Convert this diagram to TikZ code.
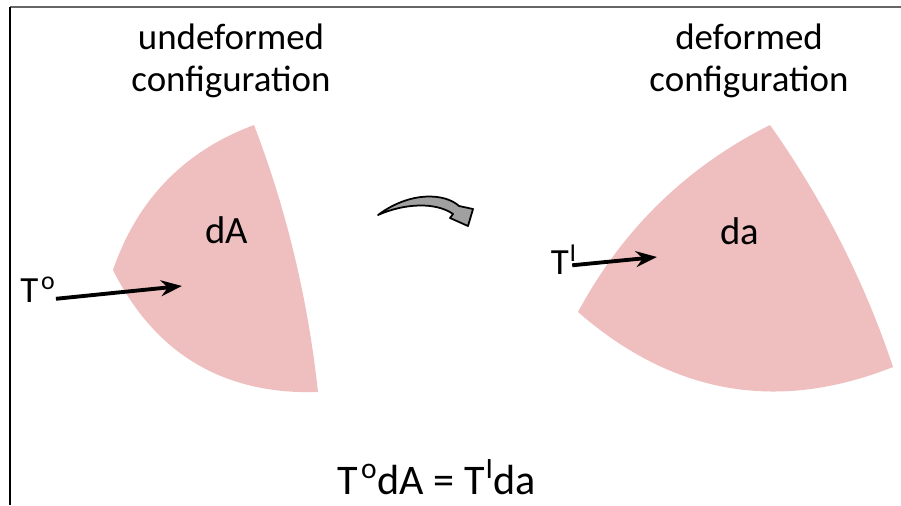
\documentclass[tikz,border=0pt]{standalone}
\usepackage{fontspec}
\setmainfont{Carlito}
\usepackage{xcolor}
\usepackage{tikz}
\usetikzlibrary{arrows.meta, positioning, calc}

\definecolor{regionpink}{RGB}{239,191,192}
\definecolor{turngray}{RGB}{160,160,160}

\newcommand{\supo}{\kern1.5pt\textsuperscript{o}}
\newcommand{\supI}{\kern0.5pt\textsuperscript{I}}

\begin{document}
\begin{tikzpicture}[
    x=0.02cm, y=-0.02cm,
    title/.style={align=center, font=\fontsize{21}{24}\selectfont, inner sep=0pt},
    area/.style={font=\fontsize{22}{26}\selectfont, inner sep=0pt},
    tlabel/.style={font=\fontsize{21}{24}\selectfont, inner sep=0pt},
    region/.style={fill=regionpink, draw=none},
    vec/.style={-{Stealth[length=12pt, width=9pt]}, line width=2.2pt}
]
    \useasboundingbox (0,0) rectangle (901,505);
    % frame
    \draw[gray!80!black, line width=0.9pt] (10,7) -- (901,7);
    \draw[black, line width=0.9pt] (10,7) -- (10,505);

    % undeformed patch
    \fill[region] (254,125) .. controls (184,151) and (137,200) .. (113,270)
        .. controls (155,354) and (224,395) .. (318,392)
        .. controls (308,300) and (287,211) .. cycle;
    % deformed patch
    \fill[region] (770,125) .. controls (686,167) and (622,230) .. (578,312)
        .. controls (672,394) and (777,413) .. (893,367)
        .. controls (864,280) and (823,200) .. cycle;

    \node[title] (undef) at (231,61) {undeformed\\configuration};
    \node[title] (def) at (749,61) {deformed\\configuration};
    \node[area] (dA) at (227,230) {dA};
    \node[area] (da) at (740,231) {da};

    % tractions
    \node[tlabel] (To) at (38,290) {T\supo};
    \node[tlabel] (Tp) at (564,260) {T\supI};
    \coordinate (ToTip) at (182,286);
    \coordinate (TpTip) at (657,257);
    \draw[vec] ([yshift=-5pt]To.east) -- (ToTip);
    \draw[vec] ([xshift=-3pt, yshift=-3pt]Tp.east) -- (TpTip);

    % mapping arrow
    \filldraw[fill=turngray, draw=black, line width=1pt, line join=round]
        (378,215) .. controls (410,191) and (445,193) .. (459,206)
        -- (473,209) -- (468,226) -- (450,218) -- (453,214)
        .. controls (436,202) and (405,203) .. cycle;

    \node[font=\fontsize{24}{28}\selectfont, inner sep=0pt] (eq) at (437,477)
        {T\supo dA = T\supI da};
\end{tikzpicture}
\end{document}
